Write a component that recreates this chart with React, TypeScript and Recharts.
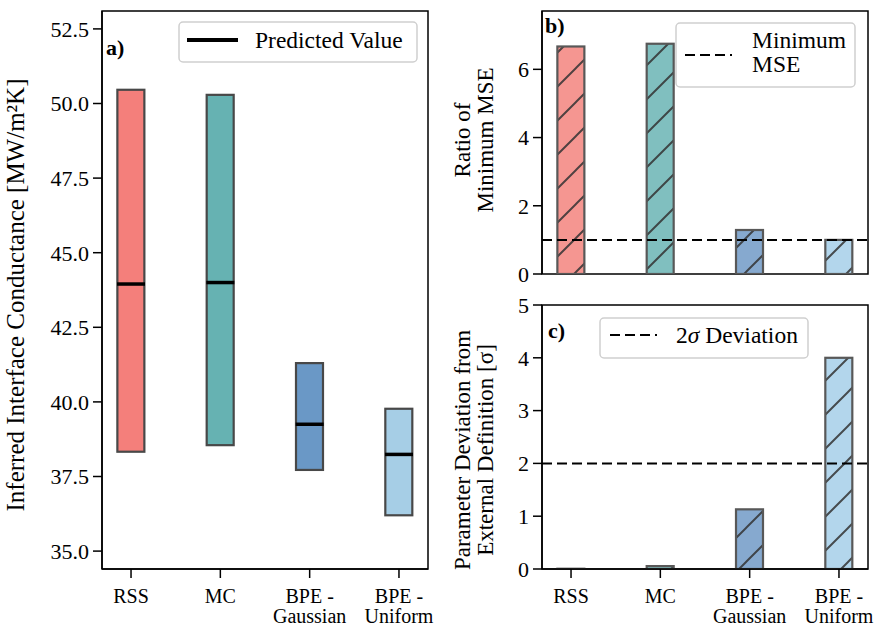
import React from "react";
import {
  ComposedChart,
  Bar,
  Scatter,
  XAxis,
  YAxis,
  ReferenceLine,
  ReferenceArea,
  Label,
} from "recharts";

const SERIF = "'Liberation Serif', 'Times New Roman', serif";

// shared categories
const methods = ["RSS", "MC", "BPE - Gaussian", "BPE - Uniform"];
const methodTickLines = [["RSS"], ["MC"], ["BPE -", "Gaussian"], ["BPE -", "Uniform"]];
const boxColors = ["#f47f7b", "#66b2b2", "#6a98c6", "#a6cee6"];
const hatchedColors = ["#f59691", "#80bfbf", "#86a9cf", "#b3d6ec"];
const positions = [0, 1, 2, 3];
const xDomain: [number, number] = [-0.325, 3.325];

// a) inferred conductance ranges
const conductanceLow = [38.33, 38.55, 37.72, 36.2];
const conductanceHigh = [50.46, 50.29, 41.3, 39.77];
const conductancePredicted = [43.95, 44.0, 39.25, 38.24];
const conductanceTicks = [35, 37.5, 40, 42.5, 45, 47.5, 50, 52.5];
const conductanceDomain: [number, number] = [34.4, 53.1];

// b) ratio of minimum MSE
const mseRatio = [6.67, 6.75, 1.29, 1.0];
const mseTicks = [0, 2, 4, 6];
const mseDomain: [number, number] = [0, 7.71];
const minimumMse = 1;

// c) deviation from external definition
const sigmaDeviation = [0.005, 0.055, 1.13, 4.0];
const sigmaTicks = [0, 1, 2, 3, 4, 5];
const sigmaDomain: [number, number] = [0, 5];
const twoSigma = 2;

const rangeData = methods.map((name, i) => ({
  name,
  pos: positions[i],
  range: [conductanceLow[i], conductanceHigh[i]],
  predicted: conductancePredicted[i],
  color: boxColors[i],
}));

const mseData = methods.map((name, i) => ({
  name,
  pos: positions[i],
  value: mseRatio[i],
  color: hatchedColors[i],
}));

const sigmaData = methods.map((name, i) => ({
  name,
  pos: positions[i],
  value: sigmaDeviation[i],
  color: hatchedColors[i],
}));

const axisStroke = { stroke: "#000", strokeWidth: 1.5 };
const tickFont = { fill: "#000", fontSize: 22, fontFamily: SERIF };

function BoxShape(props: any) {
  const { x, y, width, height, payload, hatched } = props;
  const top = Math.min(y, y + height);
  const h = Math.abs(height);
  return (
    <g>
      <rect x={x} y={top} width={width} height={h} fill={payload.color} />
      {hatched && <rect x={x} y={top} width={width} height={h} fill="url(#diag-hatch)" />}
      <rect
        x={x}
        y={top}
        width={width}
        height={h}
        fill="none"
        stroke={hatched ? "#585858" : "#484848"}
        strokeWidth={2.2}
      />
    </g>
  );
}

function PredictedMark(props: any) {
  const { cx, cy } = props;
  return <line x1={cx - 14} x2={cx + 14} y1={cy} y2={cy} stroke="#000" strokeWidth={3.5} />;
}

function MethodTick(props: any) {
  const { x, y, payload } = props;
  const lines = methodTickLines[payload.value] || [];
  return (
    <text x={x} y={y} textAnchor="middle" fill="#000" fontSize={20} fontFamily={SERIF}>
      {lines.map((line, k) => (
        <tspan key={k} x={x} dy={k === 0 ? 23 : 20}>
          {line}
        </tspan>
      ))}
    </text>
  );
}

function RotatedTitle({
  lines,
  x,
  y,
  size = 23,
}: {
  lines: string[];
  x: number;
  y: number;
  size?: number;
}) {
  return (
    <text
      transform={`translate(${x}, ${y}) rotate(-90)`}
      textAnchor="middle"
      fill="#000"
      fontSize={size}
      fontFamily={SERIF}
    >
      {lines.map((line, k) => (
        <tspan key={k} x={0} dy={k === 0 ? 0 : 23}>
          {line}
        </tspan>
      ))}
    </text>
  );
}

function Frame({ y1, y2 }: { y1: number; y2: number }) {
  return (
    <ReferenceArea
      x1={xDomain[0]}
      x2={xDomain[1]}
      y1={y1}
      y2={y2}
      fill="none"
      stroke="#000"
      strokeWidth={1.5}
      fillOpacity={0}
      ifOverflow="visible"
    />
  );
}

function ConductancePanel() {
  return (
    <ComposedChart
      width={440}
      height={633}
      data={rangeData}
      margin={{ top: 11, right: 12, bottom: 14, left: 42 }}
    >
      <XAxis
        dataKey="pos"
        type="number"
        domain={xDomain}
        ticks={positions}
        interval={0}
        tick={<MethodTick />}
        tickSize={9}
        tickMargin={2}
        height={50}
        axisLine={axisStroke}
        tickLine={axisStroke}
      />
      <YAxis
        type="number"
        domain={conductanceDomain}
        ticks={conductanceTicks}
        interval={0}
        allowDataOverflow
        width={60}
        tickSize={9}
        tickMargin={4}
        tick={tickFont}
        tickFormatter={(v: number) => v.toFixed(1)}
        axisLine={axisStroke}
        tickLine={axisStroke}
      >
        <Label
          content={() => (
            <RotatedTitle
              lines={["Inferred Interface Conductance [MW/m\u00b2K]"]}
              x={24}
              y={295}
              size={25}
            />
          )}
        />
      </YAxis>
      <Bar
        dataKey="range"
        barSize={27}
        isAnimationActive={false}
        shape={(p: any) => <BoxShape {...p} hatched={false} />}
      />
      <Scatter dataKey="predicted" isAnimationActive={false} shape={<PredictedMark />} />
      <Frame y1={conductanceDomain[0]} y2={conductanceDomain[1]} />
    </ComposedChart>
  );
}

function MsePanel() {
  return (
    <ComposedChart
      width={440}
      height={290}
      data={mseData}
      margin={{ top: 11, right: 12, bottom: 16, left: 42 }}
    >
      <XAxis dataKey="pos" type="number" domain={xDomain} ticks={positions} hide />
      <YAxis
        type="number"
        domain={mseDomain}
        ticks={mseTicks}
        interval={0}
        allowDataOverflow
        width={60}
        tickSize={9}
        tickMargin={4}
        tick={tickFont}
        axisLine={axisStroke}
        tickLine={axisStroke}
      >
        <Label content={() => <RotatedTitle lines={["Ratio of", "Minimum MSE"]} x={30} y={140} />} />
      </YAxis>
      <Bar
        dataKey="value"
        barSize={27}
        isAnimationActive={false}
        shape={(p: any) => <BoxShape {...p} hatched />}
      />
      <ReferenceLine y={minimumMse} stroke="#000" strokeWidth={2} strokeDasharray="10 5" />
      <Frame y1={mseDomain[0]} y2={mseDomain[1]} />
    </ComposedChart>
  );
}

function SigmaPanel() {
  return (
    <ComposedChart
      width={440}
      height={343}
      data={sigmaData}
      margin={{ top: 15, right: 12, bottom: 14, left: 42 }}
    >
      <XAxis
        dataKey="pos"
        type="number"
        domain={xDomain}
        ticks={positions}
        interval={0}
        tick={<MethodTick />}
        tickSize={9}
        tickMargin={2}
        height={50}
        axisLine={axisStroke}
        tickLine={axisStroke}
      />
      <YAxis
        type="number"
        domain={sigmaDomain}
        ticks={sigmaTicks}
        interval={0}
        allowDataOverflow
        width={60}
        tickSize={9}
        tickMargin={4}
        tick={tickFont}
        axisLine={axisStroke}
        tickLine={axisStroke}
      >
        <Label
          content={() => (
            <RotatedTitle
              lines={["Parameter Deviation from", "External Definition [\u03c3]"]}
              x={30}
              y={160}
            />
          )}
        />
      </YAxis>
      <Bar
        dataKey="value"
        barSize={27}
        isAnimationActive={false}
        shape={(p: any) => <BoxShape {...p} hatched />}
      />
      <ReferenceLine y={twoSigma} stroke="#000" strokeWidth={2} strokeDasharray="10 5" />
      <Frame y1={sigmaDomain[0]} y2={sigmaDomain[1]} />
    </ComposedChart>
  );
}

// legends and panel letters sit on top of the three charts
function Annotations() {
  const box = { fill: "#fff", fillOpacity: 0.8, stroke: "#cfcfcf", strokeWidth: 1.5 };
  const text = { fill: "#000", fontSize: 23.5, fontFamily: SERIF };
  return (
    <svg
      width={880}
      height={633}
      style={{ position: "absolute", left: 0, top: 0, pointerEvents: "none" }}
    >
      <text x={106} y={55} fontWeight="bold" {...text} fontSize={22}>a)</text>
      <text x={545} y={33} fontWeight="bold" {...text} fontSize={22}>b)</text>
      <text x={548} y={338} fontWeight="bold" {...text} fontSize={22}>c)</text>

      <rect x={179} y={22} width={238} height={40} rx={4} {...box} />
      <line x1={187} x2={238} y1={40} y2={40} stroke="#000" strokeWidth={4} />
      <text x={255} y={48} {...text}>Predicted Value</text>

      <rect x={676} y={23} width={179} height={64} rx={4} {...box} />
      <line x1={685} x2={732} y1={55} y2={55} stroke="#000" strokeWidth={2} strokeDasharray="10 5" />
      <text x={752} y={48} {...text}>Minimum</text>
      <text x={752} y={72} {...text}>MSE</text>

      <rect x={600} y={318} width={208} height={40} rx={4} {...box} />
      <line x1={610} x2={657} y1={335} y2={335} stroke="#000" strokeWidth={2} strokeDasharray="10 5" />
      <text x={676} y={343} {...text}>
        2<tspan fontStyle="italic">{"\u03c3"}</tspan> Deviation
      </text>
    </svg>
  );
}

export default function App() {
  return (
    <div
      style={{
        position: "absolute",
        left: 0,
        top: 0,
        width: 880,
        height: 633,
        background: "#fff",
        fontFamily: SERIF,
      }}
    >
      <svg width={0} height={0} style={{ position: "absolute" }}>
        <defs>
          <pattern id="diag-hatch" patternUnits="userSpaceOnUse" width={34} height={34}>
            <path
              d="M0,34 L34,0 M-4,4 L4,-4 M30,38 L38,30"
              stroke="#333"
              strokeOpacity={0.85}
              strokeWidth={2}
            />
          </pattern>
        </defs>
      </svg>
      <div style={{ position: "absolute", left: 0, top: 0 }}>
        <ConductancePanel />
      </div>
      <div style={{ position: "absolute", left: 440, top: 0 }}>
        <MsePanel />
      </div>
      <div style={{ position: "absolute", left: 440, top: 290 }}>
        <SigmaPanel />
      </div>
      <Annotations />
    </div>
  );
}
